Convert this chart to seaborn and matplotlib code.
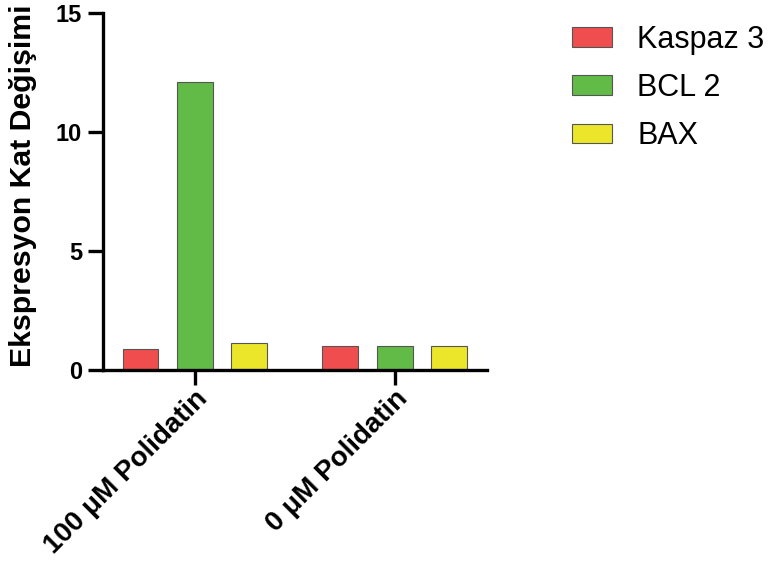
import pandas as pd
import matplotlib
matplotlib.use("Agg")
import matplotlib.pyplot as plt
import seaborn as sns

# values
groups = ["100 μM Polidatin", "0 μM Polidatin"]
genes = ["Kaspaz 3", "BCL 2", "BAX"]
kaspaz3 = [0.88, 1.0]
bcl2 = [12.1, 1.0]
bax = [1.13, 1.0]
colors = ["#F04E4E", "#62BB46", "#EBE62A"]

df = pd.DataFrame({
    "grup": groups * 3,
    "gen": [genes[0]] * 2 + [genes[1]] * 2 + [genes[2]] * 2,
    "deger": kaspaz3 + bcl2 + bax,
})

sns.set_style("ticks")
plt.rcParams["font.family"] = ["Liberation Sans", "DejaVu Sans"]
plt.rcParams["text.color"] = "black"
plt.rcParams["axes.labelcolor"] = "black"
plt.rcParams["xtick.color"] = "black"
plt.rcParams["ytick.color"] = "black"

fig = plt.figure(figsize=(7.69, 5.61), dpi=100)
ax = fig.add_axes([0.134, 0.3405, 0.499, 0.636])

sns.barplot(data=df, x="grup", y="deger", hue="gen", order=groups, hue_order=genes,
            palette=colors, saturation=1, width=0.8175, gap=0.34,
            edgecolor="#555555", linewidth=0.8, errorbar=None, ax=ax)

ax.set_xlim(-0.46, 1.46)
ax.set_ylim(0, 15)
ax.set_yticks([0, 5, 10, 15])
ax.set_xlabel("")
ax.set_ylabel("Ekspresyon Kat Değişimi", fontsize=21.8, fontweight="bold")
ax.yaxis.set_label_coords(-0.172, 0.515)

for s in ["top", "right"]:
    ax.spines[s].set_visible(False)
for s in ["left", "bottom"]:
    ax.spines[s].set_linewidth(2.4)
    ax.spines[s].set_color("black")
ax.tick_params(axis="both", width=2.4, length=11, color="black")
ax.tick_params(axis="y", labelsize=17, pad=4)
ax.tick_params(axis="x", pad=0.5)
for lab in ax.get_yticklabels():
    lab.set_fontweight("bold")
ax.set_xticks(range(len(groups)))
ax.set_xticklabels(groups, rotation=45, ha="right", rotation_mode="anchor",
                   fontsize=20, fontweight="bold")

leg = ax.legend(loc="upper left", bbox_to_anchor=(1.151, 1.045), frameon=False,
                fontsize=22, handlelength=1.31, handleheight=0.62,
                labelspacing=0.6, handletextpad=0.82)

fig.savefig("out.png", dpi=100)
